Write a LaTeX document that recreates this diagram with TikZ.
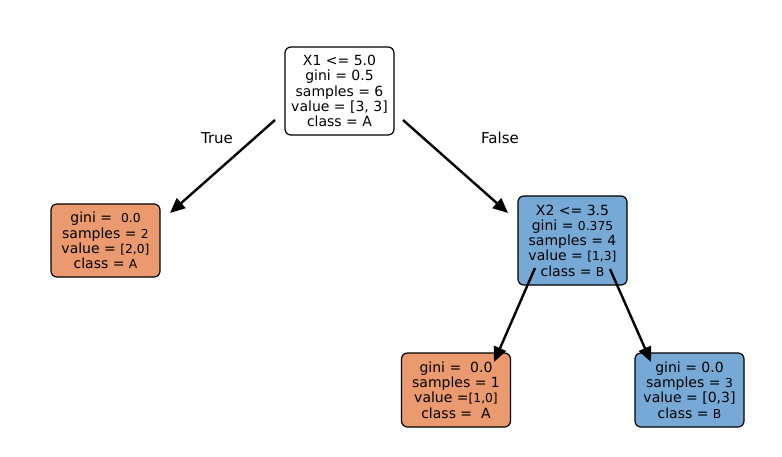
\documentclass[tikz,border=0pt]{standalone}
\usepackage{fontspec}
\setmainfont{DejaVu Sans}
\usepackage{tikz}
\usetikzlibrary{arrows.meta}
\definecolor{leaforange}{HTML}{EA9A6E}
\definecolor{leafblue}{HTML}{77A9D6}
\newcommand{\sm}[1]{{\fontsize{12.3}{13}\selectfont #1}}

\begin{document}
\begin{tikzpicture}[x=1pt, y=-1pt, font=\fontsize{14}{15.3}\selectfont,
    treenode/.style={draw=black, line width=1.2pt, rounded corners=6pt,
      minimum width=109pt, align=center, inner sep=0pt},
    edge/.style={-{Triangle[length=15pt, width=13pt]}, line width=2.4pt}]
  \useasboundingbox (0,0) rectangle (782,456);
  % nodes
  \node[treenode, fill=white, minimum height=88pt] (root) at (339.5,91)
    {X1 <= 5.0\\gini = 0.5\\samples = 6\\value = [3, 3]\\class = A};
  \node[treenode, fill=leaforange, minimum height=73pt] (leafA) at (105.5,240.5)
    {gini = \ \sm{0.0}\\samples = \sm{2}\\value = \sm{[2,0]}\\class = \sm{A}};
  \node[treenode, fill=leafblue, minimum height=89pt] (split) at (572.5,240.5)
    {X2 <= 3.5\\gini = \sm{0.375}\\samples = 4\\value = \sm{[1,3]}\\class = \sm{B}};
  \node[treenode, fill=leaforange, minimum height=74pt] (leafAA) at (456,390)
    {gini = \ 0.0\\samples = 1\\value =\sm{[1,0]}\\class = \ A};
  \node[treenode, fill=leafblue, minimum height=74pt] (leafBB) at (689.5,390)
    {gini = 0.0\\samples = \sm{3}\\value = [0,3]\\class = \sm{B}};
  % edge ends
  \coordinate (rootL) at (275,120);
  \coordinate (rootR) at (403,120);
  \coordinate (splitL) at (535,268);
  \coordinate (splitR) at (610,269);
  \coordinate (leafAin) at (170,213);
  \coordinate (splitin) at (508,213);
  \coordinate (leafAAin) at (494,362);
  \coordinate (leafBBin) at (651,362);
  \draw[edge] (rootL) -- (leafAin);
  \draw[edge] (rootR) -- (splitin);
  \draw[edge] (splitL) -- (leafAAin);
  \draw[edge] (splitR) -- (leafBBin);
  % labels
  \node[font=\fontsize{15}{17}\selectfont] (true) at (217,138) {True};
  \node[font=\fontsize{15}{17}\selectfont] (false) at (500,138) {False};
\end{tikzpicture}
\end{document}
